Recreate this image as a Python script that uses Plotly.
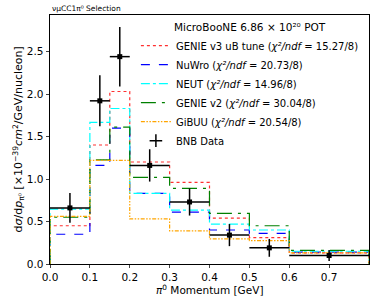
import plotly.graph_objects as go

edges = [0.0, 0.1, 0.15, 0.2, 0.3, 0.4, 0.5, 0.6, 0.8]
centers = [0.05, 0.125, 0.175, 0.25, 0.35, 0.45, 0.55, 0.7]
data_vals = [0.66, 1.92, 2.44, 1.16, 0.73, 0.34, 0.19, 0.10]
data_errs = [0.175, 0.30, 0.35, 0.19, 0.16, 0.13, 0.105, 0.065]

genie_v3 = [0.45, 1.40, 2.03, 1.20, 0.96, 0.54, 0.31, 0.13]
nuwro = [0.35, 1.16, 1.60, 0.83, 0.61, 0.40, 0.36, 0.14]
neut = [0.645, 1.667, 1.83, 0.83, 0.635, 0.47, 0.40, 0.15]
genie_v2 = [0.55, 1.225, 1.61, 1.02, 0.89, 0.595, 0.45, 0.16]
gibuu = [0.56, 1.22, 1.22, 0.53, 0.39, 0.295, 0.275, 0.13]

models = [
    ("GENIE v3 uB tune (<i>χ²/ndf</i> = 15.27/8)", genie_v3, "#ff3030", "dot"),
    ("NuWro (<i>χ²/ndf</i> = 20.73/8)", nuwro, "blue", "dash"),
    ("NEUT (<i>χ²/ndf</i> = 14.96/8)", neut, "cyan", "dashdot"),
    ("GENIE v2 (<i>χ²/ndf</i> = 30.04/8)", genie_v2, "green", "longdashdot"),
    ("GiBUU (<i>χ²/ndf</i> = 20.54/8)", gibuu, "orange", "4px,1.5px,1.5px,1.5px,1.5px,1.5px"),
]

fig = go.Figure()
for name, vals, color, dash in models:
    xs = [edges[0]] + edges + [edges[-1]]
    ys = [0] + vals + [vals[-1]] + [0]
    fig.add_trace(go.Scatter(x=xs, y=ys, mode="lines", line_shape="hv", name=name,
                             line=dict(color=color, dash=dash, width=1.2)))

half_w = [(edges[i + 1] - edges[i]) / 2 for i in range(len(centers))]
fig.add_trace(go.Scatter(
    x=centers, y=data_vals, mode="markers", name="BNB Data", showlegend=False,
    marker=dict(color="black", size=5, symbol="square"),
    error_x=dict(type="data", array=half_w, color="black", thickness=1.5, width=0),
    error_y=dict(type="data", array=data_errs, color="black", thickness=1.5, width=0),
))
# legend entry for the data (cross symbol as in the reference legend)
fig.add_trace(go.Scatter(
    x=[None], y=[None], mode="markers", name="BNB Data",
    marker=dict(color="black", size=9, symbol="cross-thin", line=dict(color="black", width=1.5)),
))

fig.update_layout(
    width=374, height=299,
    margin=dict(l=50, r=5, t=15, b=35, autoexpand=False),
    plot_bgcolor="white", paper_bgcolor="white",
    font=dict(family="DejaVu Sans", size=10, color="black"),
    showlegend=True,
    legend=dict(
        x=0.984, y=0.99, xanchor="right", yanchor="top",
        bgcolor="rgba(255,255,255,0)",
        font=dict(size=10),
        title=dict(text="MicroBooNE 6.86 × 10²⁰ POT", side="top center", font=dict(size=10.5)),
        tracegroupgap=0, itemwidth=30,
    ),
    xaxis=dict(
        range=[0, 0.8], tickvals=[0.0, 0.1, 0.2, 0.3, 0.4, 0.5, 0.6, 0.7],
        ticktext=["0.0", "0.1", "0.2", "0.3", "0.4", "0.5", "0.6", "0.7"],
        ticks="outside", ticklen=3.5, showgrid=False, zeroline=False,
        showline=True, linecolor="black", mirror=True, linewidth=0.8,
        tickfont=dict(size=10.5), automargin=False,
    ),
    yaxis=dict(
        range=[0, 2.93], tickvals=[0, 0.5, 1.0, 1.5, 2.0, 2.5],
        ticktext=["0.0", "0.5", "1.0", "1.5", "2.0", "2.5"],
        ticks="outside", ticklen=3.5, showgrid=False, zeroline=False,
        showline=True, linecolor="black", mirror=True, linewidth=0.8,
        tickfont=dict(size=10.5), automargin=False,
    ),
    annotations=[
        dict(text="νμCC1π⁰ Selection", x=0, y=1, xref="paper", yref="paper",
             xanchor="left", yanchor="middle", showarrow=False,
             font=dict(size=7.5), xshift=0, yshift=7),
        dict(text="<i>π</i><sup>0</sup> Momentum [GeV]", x=0.5, y=0, xref="paper", yref="paper",
             xanchor="center", yanchor="middle", showarrow=False,
             font=dict(size=10.5), yshift=-25),
        dict(text="d<i>σ</i>/d<i>p</i><sub>π⁰</sub> [×10<sup>−39</sup><i>cm</i><sup>2</sup>/GeV/nucleon]",
             x=0, y=0.5, xref="paper", yref="paper", textangle=-90,
             xanchor="center", yanchor="middle", showarrow=False,
             font=dict(size=11), xshift=-32),
    ],
)

fig.write_html("out.html", config={"displayModeBar": False},
               post_script="document.body.style.margin='0';")
